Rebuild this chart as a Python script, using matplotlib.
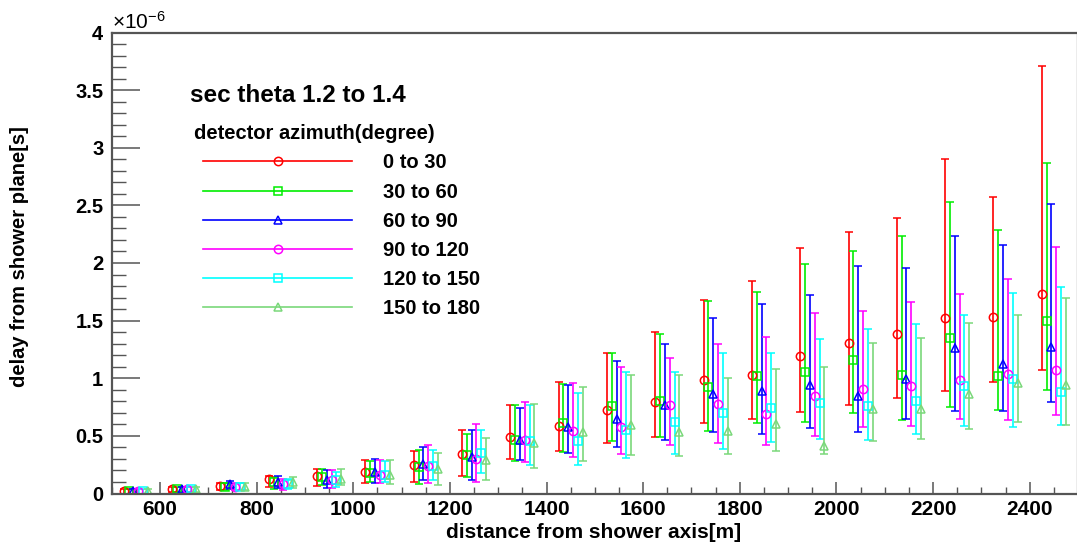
import matplotlib
matplotlib.use("Agg")
import matplotlib.pyplot as plt
from matplotlib.lines import Line2D
from matplotlib.ticker import MultipleLocator
import numpy as np

plt.rcParams["font.family"] = ["Liberation Sans", "DejaVu Sans"]
plt.rcParams["mathtext.fontset"] = "custom"
plt.rcParams["mathtext.rm"] = "Liberation Sans"
plt.rcParams["mathtext.it"] = "Liberation Sans:italic"
plt.rcParams["mathtext.bf"] = "Liberation Sans:bold"

# distance bin centres [m]
distance = [550, 650, 750, 850, 950, 1050, 1150, 1250, 1350, 1450,
            1550, 1650, 1750, 1850, 1950, 2050, 2150, 2250, 2350, 2450]

labels = ["0 to 30", "30 to 60", "60 to 90", "90 to 120", "120 to 150", "150 to 180"]

# mean delay [1e-6 s] and the lower / upper end of each error bar
delay_0_30 = [0.02, 0.035, 0.065, 0.125, 0.15, 0.19, 0.25, 0.34, 0.49, 0.59,
              0.725, 0.79, 0.985, 1.03, 1.19, 1.31, 1.385, 1.525, 1.535, 1.73]
low_0_30 = [0.0, 0.01, 0.03, 0.055, 0.065, 0.09, 0.10, 0.15, 0.30, 0.37,
            0.44, 0.49, 0.61, 0.65, 0.71, 0.77, 0.83, 0.89, 0.97, 1.07]
high_0_30 = [0.04, 0.06, 0.095, 0.15, 0.21, 0.29, 0.37, 0.55, 0.77, 0.97,
             1.22, 1.40, 1.68, 1.84, 2.13, 2.27, 2.39, 2.90, 2.575, 3.71]

delay_30_60 = [0.02, 0.035, 0.06, 0.10, 0.145, 0.175, 0.23, 0.33, 0.46, 0.61,
               0.755, 0.80, 0.92, 1.02, 1.055, 1.16, 1.03, 1.35, 1.02, 1.50]
low_30_60 = [0.0, 0.01, 0.03, 0.04, 0.07, 0.10, 0.08, 0.14, 0.28, 0.36,
             0.455, 0.49, 0.545, 0.615, 0.62, 0.70, 0.64, 0.75, 0.725, 0.90]
high_30_60 = [0.04, 0.06, 0.09, 0.14, 0.21, 0.28, 0.38, 0.52, 0.77, 0.95,
              1.22, 1.38, 1.67, 1.75, 1.99, 2.10, 2.23, 2.53, 2.29, 2.87]

delay_60_90 = [0.02, 0.035, 0.08, 0.10, 0.12, 0.19, 0.26, 0.32, 0.46, 0.575,
               0.645, 0.765, 0.865, 0.89, 0.94, 0.845, 0.99, 1.26, 1.12, 1.275]
low_60_90 = [0.0, 0.01, 0.04, 0.045, 0.05, 0.09, 0.12, 0.12, 0.29, 0.35,
             0.405, 0.465, 0.53, 0.515, 0.57, 0.535, 0.65, 0.715, 0.715, 0.79]
high_60_90 = [0.04, 0.06, 0.11, 0.15, 0.20, 0.30, 0.40, 0.55, 0.74, 0.945,
              1.15, 1.30, 1.52, 1.64, 1.72, 1.97, 1.96, 2.23, 2.16, 2.515]

delay_90_120 = [0.02, 0.035, 0.055, 0.08, 0.12, 0.16, 0.24, 0.30, 0.46, 0.54,
                0.58, 0.765, 0.78, 0.69, 0.845, 0.905, 0.935, 0.985, 1.035, 1.075]
low_90_120 = [0.0, 0.01, 0.03, 0.03, 0.05, 0.09, 0.09, 0.10, 0.275, 0.32,
              0.345, 0.42, 0.44, 0.42, 0.50, 0.58, 0.585, 0.645, 0.64, 0.68]
high_90_120 = [0.04, 0.06, 0.09, 0.13, 0.20, 0.29, 0.42, 0.60, 0.79, 0.96,
               1.10, 1.18, 1.30, 1.36, 1.57, 1.585, 1.665, 1.735, 1.86, 2.135]

delay_120_150 = [0.02, 0.035, 0.055, 0.085, 0.12, 0.16, 0.24, 0.35, 0.455, 0.455,
                 0.555, 0.62, 0.695, 0.745, 0.785, 0.755, 0.805, 0.935, 0.995, 0.88]
low_120_150 = [0.0, 0.01, 0.03, 0.035, 0.06, 0.10, 0.12, 0.18, 0.25, 0.25,
               0.305, 0.345, 0.39, 0.45, 0.47, 0.465, 0.515, 0.585, 0.575, 0.595]
high_120_150 = [0.04, 0.06, 0.09, 0.13, 0.19, 0.28, 0.38, 0.55, 0.77, 0.875,
                1.05, 1.05, 1.22, 1.22, 1.34, 1.425, 1.47, 1.545, 1.74, 1.79]

delay_150_180 = [0.02, 0.035, 0.06, 0.10, 0.13, 0.16, 0.21, 0.29, 0.44, 0.53,
                 0.595, 0.53, 0.545, 0.60, 0.415, 0.735, 0.735, 0.865, 0.96, 0.94]
low_150_180 = [0.0, 0.01, 0.03, 0.05, 0.07, 0.08, 0.07, 0.12, 0.22, 0.28,
               0.33, 0.325, 0.345, 0.37, 0.345, 0.455, 0.47, 0.56, 0.62, 0.595]
high_150_180 = [0.04, 0.06, 0.09, 0.14, 0.21, 0.29, 0.35, 0.48, 0.78, 0.92,
                1.03, 1.03, 1.00, 1.08, 1.10, 1.31, 1.345, 1.48, 1.55, 1.695]

series = [
    (delay_0_30, low_0_30, high_0_30),
    (delay_30_60, low_30_60, high_30_60),
    (delay_60_90, low_60_90, high_60_90),
    (delay_90_120, low_90_120, high_90_120),
    (delay_120_150, low_120_150, high_120_150),
    (delay_150_180, low_150_180, high_150_180),
]

colors = ["#ff0000", "#00ee00", "#0000ff", "#ff00ff", "#00ffff", "#7ad87a"]
markers = ["o", "s", "^", "o", "s", "^"]
shift = [-25, -15, -5, 5, 15, 25]   # horizontal offset of each azimuth group [m]

W, H = 1077, 548
fig = plt.figure(figsize=(W / 100, H / 100), dpi=100)
x0, x1 = 111.7, 1078.0
y0, y1 = 493.5, 32.5
ax = fig.add_axes([x0 / W, 1 - y0 / H, (x1 - x0) / W, (y0 - y1) / H])

handles = []
for (mean, lo, hi), c, m, dx in zip(series, colors, markers, shift):
    mean = np.asarray(mean)
    xs = np.asarray(distance) + dx
    yerr = [mean - np.asarray(lo), np.asarray(hi) - mean]
    ax.errorbar(xs, mean, yerr=yerr, fmt=m, color=c, ecolor=c,
                mfc="none", mec=c, ms=6, mew=1.1, elinewidth=1.2,
                capsize=3.0, capthick=1.2)
    handles.append(Line2D([], [], color=c, lw=1.2, marker=m, mfc="none",
                          mec=c, ms=6, mew=1.1))

ax.set_xlim(500, 2500)
ax.set_ylim(0, 4)

ax.xaxis.set_major_locator(MultipleLocator(200))
ax.xaxis.set_minor_locator(MultipleLocator(50))
ax.yaxis.set_major_locator(MultipleLocator(0.5))
ax.yaxis.set_minor_locator(MultipleLocator(0.1))
ax.yaxis.set_major_formatter(plt.FuncFormatter(lambda v, p: f"{v:g}"))

frame_c = "#555555"
for s in ax.spines.values():
    s.set_color(frame_c)
    s.set_linewidth(1.6)

ax.tick_params(axis="x", which="major", direction="in", length=8.5, width=1.1,
               color=frame_c, labelsize=15, pad=5, top=False)
ax.tick_params(axis="x", which="minor", direction="in", length=4.8, width=1.0,
               color=frame_c, top=False)
ax.tick_params(axis="y", which="major", direction="in", length=20, width=1.1,
               color=frame_c, labelsize=14.5, pad=6, right=False)
ax.tick_params(axis="y", which="minor", direction="in", length=10, width=1.0,
               color=frame_c, right=False)
for lab in ax.get_xticklabels() + ax.get_yticklabels():
    lab.set_fontweight("bold")

fig.text(x0 / W, 1 - 29 / H, r"$\times$10$^{\mathregular{-6}}$", fontsize=15,
         ha="left", va="baseline")

fig.text(594 / W, 1 - 538 / H, "distance from shower axis[m]", fontsize=15,
         fontweight="bold", ha="center", va="baseline")
fig.text(20 / W, 1 - 257 / H, "delay from shower plane[s]", fontsize=14.5,
         fontweight="bold", ha="center", va="center", rotation=90)

fig.text(190 / W, 1 - 101.7 / H, "sec theta 1.2 to 1.4", fontsize=17.5,
         fontweight="bold", ha="left", va="baseline")
fig.text(194 / W, 1 - 139 / H, "detector azimuth(degree)", fontsize=14.5,
         fontweight="bold", ha="left", va="baseline")

leg = ax.legend(handles, labels, loc="upper left",
                bbox_to_anchor=(203 / W, 1 - 153.5 / H), bbox_transform=fig.transFigure,
                frameon=False, numpoints=1, handlelength=7.4, handletextpad=1.55,
                labelspacing=0.5, borderpad=0, borderaxespad=0,
                prop={"size": 14.5, "weight": "bold"})

fig.savefig("out.png", dpi=100)
